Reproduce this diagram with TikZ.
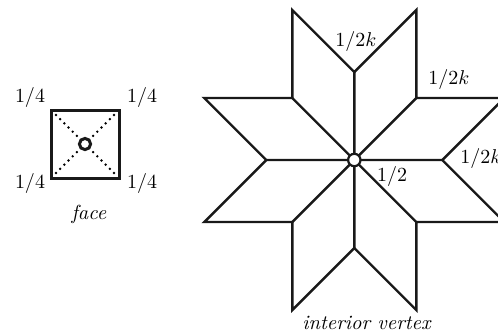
\documentclass[tikz,border=0pt]{standalone}
\usetikzlibrary{calc}
\tikzset{
  edge/.style={line width=1.2pt,draw=black!90,line join=miter},
  dotline/.style={line width=1.35pt,black,dash pattern=on 0pt off 2.95pt,line cap=round},
  hub/.style={circle,draw=black!90,fill=white,inner sep=0pt,minimum size=6.2pt,line width=1.1pt},
  facehub/.style={circle,draw=black!90,fill=white,inner sep=0pt,minimum size=5.6pt,line width=1.5pt},
  lab/.style={inner sep=0pt,text=black,font=\fontsize{10.2}{12}\selectfont},
}
\begin{document}
\begin{tikzpicture}[x=0.5pt,y=-0.5pt]
\useasboundingbox (0,0) rectangle (498,333);
\begin{scope}
\clip (0,0) rectangle (498,333);
% star
\coordinate (c) at (354.3,160);
\foreach \n/\x/\y in {a1/62/-150,b1/0/-88,a2/-62/-150,s1/62/-62,s2/-62/-62,s3/-62/62,s4/62/62,
  a3/-150/-62,b2/-88/0,a4/-150/62,a5/-62/150,b3/0/88,a6/62/150,a7/150/62,b4/88/0,a8/150/-62}
  {\coordinate (\n) at ($(c)+(\x,\y)$);}
\draw[edge] (s2) -- (a2) -- (b1) -- (a1) -- (s1) -- (a8) -- (b4) -- (a7) -- (s4) -- (a6) -- (b3) -- (a5) -- (s3) -- (a4) -- (b2) -- (a3) -- (s2) -- cycle;
\draw[edge] (s1) -- (c) (s2) -- (c) (s3) -- (c) (s4) -- (c) (b1) -- (c) (b2) -- (c) (b3) -- (c) (b4) -- (c);
\end{scope}
\node[hub] (hubv) at (354.3,160) {};
% face
\coordinate (nw) at (51,110);
\coordinate (ne) at (119,110);
\coordinate (se) at (119,178);
\coordinate (sw) at (51,178);
\coordinate (fc) at (85,144);
\draw[dotline] ($(nw)+(5,5)$) -- (fc);
\draw[dotline] ($(ne)+(-5,5)$) -- (fc);
\draw[dotline] ($(sw)+(5,-5)$) -- (fc);
\draw[dotline] ($(se)+(-5,-5)$) -- (fc);
\draw[line width=1.5pt,draw=black!90] (nw) -- (ne) -- (se) -- (sw) -- cycle;
\node[facehub] (hubf) at (fc) {};
% labels
\node[lab] (l1) at (30,97) {$1/4$};
\node[lab] (l2) at (142,97) {$1/4$};
\node[lab] (l3) at (30,183) {$1/4$};
\node[lab] (l4) at (142,183) {$1/4$};
\node[lab] (l5) at (89,214) {\textit{face}};
\node[lab] (l6) at (356,41) {$1/2k$};
\node[lab] (l7) at (449,79) {$1/2k$};
\node[lab] (l8) at (481,158) {$1/2k$};
\node[lab] (l9) at (392,176) {$1/2$};
\node[lab] (l10) at (367,323) {\textit{interior vertex}};
\end{tikzpicture}
\end{document}
